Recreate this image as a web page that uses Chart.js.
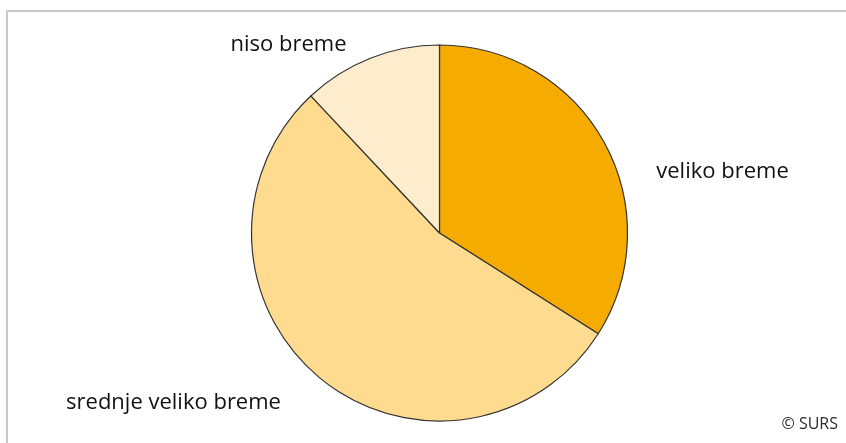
<!DOCTYPE html>
<html>
<head>
<meta charset="utf-8">
<script src="https://cdn.jsdelivr.net/npm/chart.js@4/dist/chart.umd.min.js"></script>
<style>
  html, body { margin: 0; padding: 0; background: #ffffff; }
  #wrap { position: relative; width: 846px; height: 443px; }
</style>
</head>
<body>
<div id="wrap"><canvas id="c" width="846" height="443"></canvas></div>
<script>
// Share of households by burden level
const categories = ['veliko breme', 'srednje veliko breme', 'niso breme'];
const shares = [34, 54, 12];
const sliceColors = ['#F6AB00', '#FEDB8F', '#FEEDCD'];
const sourceNote = '© SURS';

// Where each category label sits, relative to the pie centre
const labelOffsets = {
  'veliko breme': { dx: 283, dy: -61, align: 'center' },
  'srednje veliko breme': { dx: -266, dy: 170, align: 'center' },
  'niso breme': { dx: -151, dy: -188, align: 'center' }
};

const FONT = '22px "Open Sans", "Noto Sans", sans-serif';

const framePlugin = {
  id: 'frame',
  beforeDraw(chart) {
    const ctx = chart.ctx;
    ctx.save();
    ctx.fillStyle = '#ffffff';
    ctx.fillRect(0, 0, chart.width, chart.height);
    ctx.strokeStyle = '#c9c9c9';
    ctx.lineWidth = 2;
    ctx.beginPath();
    ctx.moveTo(chart.width + 2, 11);
    ctx.lineTo(7, 11);
    ctx.lineTo(7, chart.height + 2);
    ctx.stroke();
    ctx.restore();
  }
};

const labelPlugin = {
  id: 'sliceLabels',
  afterDraw(chart) {
    const ctx = chart.ctx;
    const arc = chart.getDatasetMeta(0).data[0];
    const cx = arc.x, cy = arc.y;
    ctx.save();
    ctx.font = FONT;
    ctx.fillStyle = '#111111';
    ctx.textBaseline = 'middle';
    chart.data.labels.forEach((lab) => {
      const o = labelOffsets[lab];
      if (!o) return;
      ctx.textAlign = o.align;
      ctx.fillText(lab, cx + o.dx, cy + o.dy);
    });
    ctx.font = '16px "Open Sans", "Noto Sans", sans-serif';
    ctx.fillStyle = '#2a2a2a';
    ctx.textAlign = 'right';
    ctx.fillText(sourceNote, 838, 424);
    ctx.restore();
  }
};

new Chart(document.getElementById('c'), {
  type: 'pie',
  data: {
    labels: categories,
    datasets: [{
      data: shares,
      backgroundColor: sliceColors,
      borderColor: '#333333',
      borderWidth: 1.2
    }]
  },
  options: {
    responsive: false,
    animation: false,
    radius: 188,
    layout: { padding: { top: 45, bottom: 22, left: 33, right: 0 } },
    plugins: {
      legend: { display: false },
      tooltip: { enabled: false }
    }
  },
  plugins: [framePlugin, labelPlugin]
});
</script>
</body>
</html>
